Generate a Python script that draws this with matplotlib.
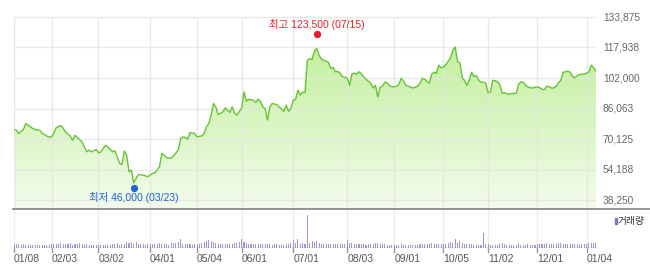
import numpy as np
import matplotlib.pyplot as plt
from matplotlib.lines import Line2D
from matplotlib.patches import Rectangle
from matplotlib.transforms import offset_copy

plt.rcParams['font.family'] = ['Liberation Sans', 'Noto Sans CJK KR']

# trading sessions counted from 2020-01-08, closing prices
session = [0, 1, 2, 4, 5, 7, 8, 9, 11, 12, 13, 14, 15, 16, 17, 18, 20, 21, 22, 24,
           25, 26, 27, 29, 30, 31, 32, 33, 35, 36, 37, 39, 41, 42, 43, 44, 45, 46, 47, 48,
           49, 50, 51, 52, 53, 55, 56, 57, 59, 60, 62, 63, 64, 65, 67, 68, 70, 71, 72, 73,
           74, 75, 77, 78, 80, 81, 82, 83, 84, 85, 86, 87, 89, 90, 92, 93, 94, 95, 96, 97,
           98, 99, 100, 102, 103, 104, 105, 106, 107, 108, 109, 110, 112, 113, 115, 116, 117, 118, 119, 120,
           121, 122, 123, 124, 125, 126, 127, 128, 129, 130, 131, 132, 133, 134, 135, 136, 137, 138, 139, 140,
           141, 142, 143, 144, 145, 146, 147, 148, 149, 150, 151, 152, 153, 154, 155, 156, 157, 158, 159, 160,
           161, 162, 163, 164, 165, 166, 167, 168, 169, 170, 171, 172, 173, 174, 175, 176, 177, 178, 179, 180,
           181, 182, 183, 184, 185, 186, 187, 188, 189, 190, 191, 192, 193, 194, 195, 196, 197, 198, 199, 200,
           201, 202, 203, 204, 205, 206, 207, 208, 209, 210, 211, 212, 213, 214, 215, 216, 217, 218, 219, 220,
           221, 222, 223, 224, 225, 226, 227, 228, 229, 230, 231, 232, 233, 234, 235, 236, 237, 238, 239, 240,
           241, 242, 243, 244, 245, 246, 247, 248]
close = [75100, 74700, 73000, 75100, 78200, 76500, 75600, 75100, 74700, 73000, 72500, 71600, 71200, 71200, 73300, 76100, 77200, 75600, 73800, 71600,
         69500, 72100, 70900, 68600, 66000, 63400, 64300, 63400, 64700, 62900, 63400, 66900, 64700, 63400, 63900, 60800, 57400, 56800, 63900, 61700,
         53000, 53900, 47200, 49500, 51600, 51200, 50900, 50400, 52100, 52400, 55600, 62600, 61700, 60400, 60000, 61400, 64300, 70400, 71200, 70900,
         70000, 73500, 73000, 71200, 71800, 73000, 76500, 78200, 82600, 88700, 86900, 82900, 84300, 86400, 84000, 86900, 83500, 82600, 84600, 86100,
         94700, 89900, 90900, 90400, 89200, 90900, 89900, 86900, 86100, 80000, 86900, 88700, 88100, 86900, 84600, 87800, 84600, 86100, 90400, 90900,
         95700, 93000, 94600, 94300, 111300, 112200, 111700, 116000, 117400, 113900, 111800, 111300, 110800, 110200, 106900, 107600, 105200, 105500, 104300, 102600,
         102400, 101900, 98200, 104200, 104500, 104000, 105300, 104200, 102600, 101400, 100300, 99300, 96700, 98200, 92100, 97200, 97700, 99800, 99500, 98200,
         97400, 97400, 97700, 98700, 101900, 100300, 98200, 97700, 97200, 96800, 97200, 97700, 99300, 101900, 101400, 100000, 99300, 104000, 105000, 104500,
         108700, 107400, 107600, 109000, 110800, 112600, 116500, 118200, 110500, 110000, 102100, 100600, 98200, 100800, 105000, 102700, 103200, 100800, 99800, 99800,
         99300, 94400, 94700, 100800, 100600, 100000, 98600, 94000, 94300, 93800, 93500, 93900, 93900, 94000, 98700, 100000, 99800, 98200, 97300, 96900,
         96800, 97200, 97300, 96900, 96100, 95900, 97700, 97400, 96800, 96800, 97700, 99500, 100800, 105000, 105300, 105500, 105000, 102700, 102100, 103200,
         103800, 104000, 104000, 104500, 105300, 108700, 107400, 105500]

# volume per session (thousand shares), sessions 0..248
volume = [420, 380, 400, 330, 360, 300, 340, 310, 290, 300,
          280, 260, 300, 270, 310, 290, 420, 380, 450, 400,
          460, 380, 430, 400, 470, 350, 380, 420, 500, 360,
          320, 380, 300, 340, 280, 310, 300, 330, 350, 300,
          280, 330, 360, 400, 480, 350, 420, 380, 560, 520,
          600, 450, 560, 400, 380, 420, 350, 390, 420, 360,
          400, 450, 500, 380, 420, 380, 350, 460, 520, 480,
          600, 880, 420, 380, 400, 360, 330, 450, 380, 420,
          520, 600, 700, 780, 720, 560, 480, 420, 380, 360,
          400, 420, 380, 420, 500, 460, 650, 880, 620, 480,
          440, 420, 450, 400, 380, 360, 420, 380, 400, 360,
          340, 380, 360, 330, 350, 320, 380, 420, 480, 800,
          520, 900, 420, 460, 380, 3300, 520, 700, 560, 720,
          480, 420, 380, 400, 380, 360, 420, 380, 400, 380,
          360, 420, 820, 520, 480, 420, 380, 400, 360, 380,
          340, 380, 420, 360, 500, 480, 400, 360, 380, 340,
          320, 300, 280, 330, 300, 380, 320, 340, 300, 280,
          320, 300, 340, 380, 420, 360, 400, 380, 500, 420,
          400, 380, 360, 420, 450, 500, 600, 480, 950, 520,
          700, 500, 420, 380, 400, 360, 340, 320, 300, 340,
          1500, 380, 360, 340, 320, 300, 340, 380, 500, 360,
          320, 300, 340, 300, 320, 380, 340, 300, 320, 360,
          330, 300, 340, 380, 420, 380, 400, 500, 420, 440,
          380, 420, 460, 500, 420, 380, 400, 360, 380, 420,
          360, 340, 380, 400, 420, 460, 500, 540, 480]

tick_session = [0, 16, 36, 58, 78, 97, 119, 142, 162, 183, 202, 223, 244]
tick_label = ['01/08', '02/03', '03/02', '04/01', '05/04', '06/01', '07/01',
              '08/03', '09/01', '10/05', '11/02', '12/01', '01/04']
price_ticks = [38250, 54188, 70125, 86063, 102000, 117938, 133875]

high_session, high_price = 129, 123500
low_session, low_price = 51, 46000

W, H = 650, 267
fig = plt.figure(figsize=(W / 100, H / 100), dpi=100)


def box(l, t, r, b):
    return [l / W, 1 - b / H, (r - l) / W, (b - t) / H]


ax = fig.add_axes(box(14, 17, 596, 209))
vax = fig.add_axes(box(14, 209, 596, 248))
ymin, ymax = 33550, 133875
ax.set_xlim(0, 248)
ax.set_ylim(ymin, ymax)
vtop = 3300 * 39 / 33
vax.set_xlim(0, 248)
vax.set_ylim(0, vtop)
ax.axis('off')
vax.axis('off')

# gradient area under the price line
poly = ax.fill_between(session, close, ymin, facecolor='none', edgecolor='none')
top = np.array([186, 237, 144]) / 255
bot = np.array([243, 252, 236]) / 255
t = np.linspace(0, 1, 256)[:, None]
grad = (bot + (top - bot) * t)[:, None, :]
im = ax.imshow(grad, extent=[0, 248, ymin, ymax], aspect='auto', origin='lower', zorder=1)
im.set_clip_path(poly.get_paths()[0], ax.transData)

# grid
ax.hlines(price_ticks, 0, 248, color='#e4e4e4', lw=1, alpha=0.8, zorder=2, clip_on=False)
ax.vlines(tick_session, ymin, ymax, color='#e4e4e4', lw=1, alpha=0.8, zorder=2)
vax.vlines(tick_session, 0, vtop, color='#ececec', lw=1, zorder=0)

ax.plot(session, close, color='#66c433', lw=1.0, zorder=3)

# right-hand price labels
for p in price_ticks:
    ax.text(1.012, p, f'{p:,}', transform=ax.get_yaxis_transform(), ha='left',
            va='center', fontsize=7.3, color='#666666')

# high / low markers
ax.plot(high_session, high_price, 'o', color='#ee1c25', ms=4.2, zorder=5, clip_on=False,
        transform=offset_copy(ax.transData, fig=fig, y=3, units='dots'))
ax.text(high_session, high_price, f'최고 {high_price:,} (07/15)', color='#ee1c25',
        fontsize=7.5, ha='center', va='center', zorder=5,
        transform=offset_copy(ax.transData, fig=fig, y=12.5, units='dots'))
ax.plot(low_session, low_price, 'o', color='#1a66d6', ms=4.2, zorder=5, clip_on=False,
        transform=offset_copy(ax.transData, fig=fig, y=-3, units='dots'))
ax.text(low_session, low_price, f'최저 {low_price:,} (03/23)', color='#1a66d6',
        fontsize=7.5, ha='center', va='center', zorder=5,
        transform=offset_copy(ax.transData, fig=fig, y=-12.5, units='dots'))

# volume bars
vax.bar(np.arange(len(volume)), volume, width=0.45, color='#a594dc', zorder=2)
vax.axhline(0, color='#999999', lw=1, zorder=3)
for s, lab in zip(tick_session, tick_label):
    vax.plot([s, s], [0, -4 / 39], transform=vax.get_xaxis_transform(),
             color='#999999', lw=1, clip_on=False)
    vax.text(s, -11 / 39, lab, transform=vax.get_xaxis_transform(), ha='left',
             va='center', fontsize=7.5, color='#555555')

# separator between price and volume panels
fig.add_artist(Line2D([13 / W, 1], [1 - 209 / H] * 2, color='#777777', lw=1.1))

# volume legend
fig.add_artist(Rectangle((614.5 / W, 1 - 224 / H), 2.5 / W, 6 / H, color='#8a72c8'))
fig.text(618 / W, 1 - 221 / H, '거래량', fontsize=7, color='#333333', va='center')

fig.savefig('out.png', dpi=100)
